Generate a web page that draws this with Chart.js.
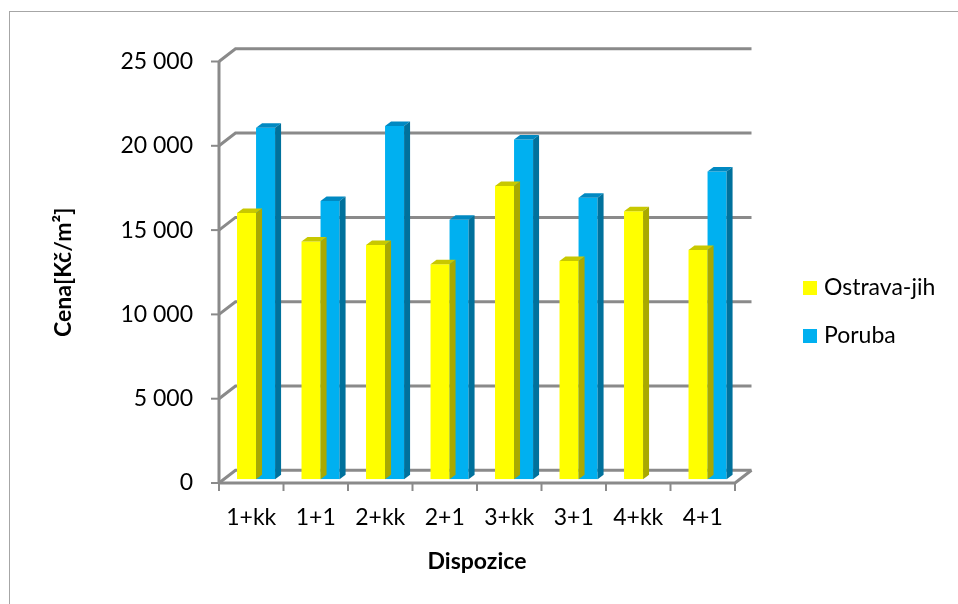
<!DOCTYPE html>
<html>
<head>
<meta charset="utf-8">
<script src="https://cdn.jsdelivr.net/npm/chart.js@4/dist/chart.umd.min.js"></script>
<style>
  html, body { margin: 0; padding: 0; background: #ffffff; }
  #wrap { width: 958px; height: 604px; position: relative; }
</style>
</head>
<body>
<div id="wrap"><canvas id="c" width="958" height="604"></canvas></div>
<script>
// Price per m² by flat layout, two Ostrava districts
const categories = ['1+kk', '1+1', '2+kk', '2+1', '3+kk', '3+1', '4+kk', '4+1'];
const ostravaJih = [15800, 14100, 13900, 12750, 17400, 12950, 15900, 13600];
const poruba = [20850, 16500, 20950, 15400, 20150, 16700, null, 18250];
const yTickValues = [0, 5000, 10000, 15000, 20000, 25000];
const seriesNames = ['Ostrava-jih', 'Poruba'];

const FONT = 'Lato, "Liberation Sans", sans-serif';
const GRID = '#8a8a8a';

// Oblique projection offsets relative to the plane the bar fronts sit in
const FRONT = { dx: -4.8, dy: 3.7 };   // front axis plane
const BACK = { dx: 11.7, dy: -9 };     // back wall plane
const DEPTH = { dx: 6, dy: -4.5 };     // bar thickness

const faceShades = [
  { top: '#c8c800', side: '#a9a900' },
  { top: '#0089c2', side: '#00719c' }
];

function fmt(v) {
  return String(v).replace(/\B(?=(\d{3})+(?!\d))/g, ' ');
}

const wallPlugin = {
  id: 'wall3d',
  beforeDraw(chart) {
    const ctx = chart.ctx;
    ctx.save();
    ctx.fillStyle = '#ffffff';
    ctx.fillRect(0, 0, chart.width, chart.height);
    // outer frame
    ctx.strokeStyle = '#a6a6a6';
    ctx.lineWidth = 1;
    ctx.strokeRect(9.5, 11.5, chart.width + 20, chart.height + 20);
    ctx.restore();
  },
  beforeDatasetsDraw(chart) {
    const ctx = chart.ctx;
    const xs = chart.scales.x, ys = chart.scales.y;
    const a = chart.chartArea;
    const fx0 = a.left + FRONT.dx, fx1 = a.right + FRONT.dx;
    const bx0 = a.left + BACK.dx, bx1 = a.right + BACK.dx;
    ctx.save();
    ctx.strokeStyle = GRID;
    ctx.lineCap = 'butt';
    ctx.lineJoin = 'miter';

    // back wall gridlines with the side diagonals
    ctx.lineWidth = 3;
    yTickValues.forEach(v => {
      const yp = ys.getPixelForValue(v);
      const yf = yp + FRONT.dy, yb = yp + BACK.dy;
      ctx.beginPath();
      ctx.moveTo(fx0, yf);
      ctx.lineTo(bx0, yb);
      ctx.lineTo(bx1, yb);
      ctx.stroke();
    });
    // floor: front edge and right diagonal
    const y0 = ys.getPixelForValue(0);
    ctx.beginPath();
    ctx.moveTo(fx0, y0 + FRONT.dy);
    ctx.lineTo(fx1, y0 + FRONT.dy);
    ctx.lineTo(bx1, y0 + BACK.dy);
    ctx.stroke();
    // front value axis
    const yTop = ys.getPixelForValue(25000);
    ctx.beginPath();
    ctx.moveTo(fx0, yTop + FRONT.dy);
    ctx.lineTo(fx0, y0 + FRONT.dy);
    ctx.stroke();

    // tick marks
    ctx.lineWidth = 2;
    yTickValues.forEach(v => {
      const yf = ys.getPixelForValue(v) + FRONT.dy;
      ctx.beginPath();
      ctx.moveTo(fx0 - 8, yf);
      ctx.lineTo(fx0, yf);
      ctx.stroke();
    });
    const step = (a.right - a.left) / categories.length;
    for (let i = 0; i <= categories.length; i++) {
      const x = fx0 + i * step;
      ctx.beginPath();
      ctx.moveTo(x, y0 + FRONT.dy);
      ctx.lineTo(x, y0 + FRONT.dy + 8);
      ctx.stroke();
    }

    // tick labels
    ctx.fillStyle = '#000000';
    ctx.font = '23px ' + FONT;
    ctx.textAlign = 'right';
    ctx.textBaseline = 'middle';
    yTickValues.forEach(v => {
      ctx.fillText(fmt(v), fx0 - 26, ys.getPixelForValue(v) + FRONT.dy);
    });
    ctx.textAlign = 'center';
    categories.forEach((c, i) => {
      ctx.fillText(c, xs.getPixelForValue(i) + FRONT.dx, y0 + FRONT.dy + 35);
    });

    // axis titles
    ctx.font = 'bold 23px ' + FONT;
    ctx.fillText('Dispozice', (fx0 + fx1) / 2, 562);
    ctx.save();
    ctx.translate(64, (yTop + y0) / 2 + FRONT.dy);
    ctx.rotate(-Math.PI / 2);
    ctx.fillText('Cena[Kč/m²]', 0, 0);
    ctx.restore();

    // legend
    ctx.font = '23px ' + FONT;
    ctx.textAlign = 'left';
    chart.data.datasets.forEach((ds, i) => {
      const yc = 288 + i * 48;
      ctx.fillStyle = ds.backgroundColor;
      ctx.fillRect(803, yc - 7, 14, 14);
      ctx.fillStyle = '#000000';
      ctx.fillText(ds.label, 824, yc);
    });
    ctx.restore();
  },
  afterDatasetDraw(chart, args) {
    const ctx = chart.ctx;
    const shade = faceShades[args.index];
    const values = chart.data.datasets[args.index].data;
    ctx.save();
    args.meta.data.forEach((bar, i) => {
      if (values[i] == null || bar.skip) return;
      const l = bar.x - bar.width / 2, r = bar.x + bar.width / 2;
      const t = bar.y, b = bar.base;
      // top face
      ctx.fillStyle = shade.top;
      ctx.beginPath();
      ctx.moveTo(l, t);
      ctx.lineTo(r, t);
      ctx.lineTo(r + DEPTH.dx, t + DEPTH.dy);
      ctx.lineTo(l + DEPTH.dx, t + DEPTH.dy);
      ctx.closePath();
      ctx.fill();
      // side face
      ctx.fillStyle = shade.side;
      ctx.beginPath();
      ctx.moveTo(r, t);
      ctx.lineTo(r + DEPTH.dx, t + DEPTH.dy);
      ctx.lineTo(r + DEPTH.dx, b + DEPTH.dy);
      ctx.lineTo(r, b);
      ctx.closePath();
      ctx.fill();
    });
    ctx.restore();
  }
};

new Chart(document.getElementById('c'), {
  type: 'bar',
  data: {
    labels: categories,
    datasets: [
      { label: seriesNames[0], data: ostravaJih, backgroundColor: '#ffff00', borderWidth: 0 },
      { label: seriesNames[1], data: poruba, backgroundColor: '#00b0f0', borderWidth: 0 }
    ]
  },
  options: {
    responsive: false,
    animation: false,
    devicePixelRatio: 1,
    layout: { padding: { left: 223.8, right: 218.2, top: 57.8, bottom: 124.7 } },
    datasets: { bar: { categoryPercentage: 0.59, barPercentage: 1 } },
    plugins: { legend: { display: false }, tooltip: { enabled: false } },
    scales: {
      x: { display: false },
      y: { display: false, min: 0, max: 25000 }
    }
  },
  plugins: [wallPlugin]
});
</script>
</body>
</html>
